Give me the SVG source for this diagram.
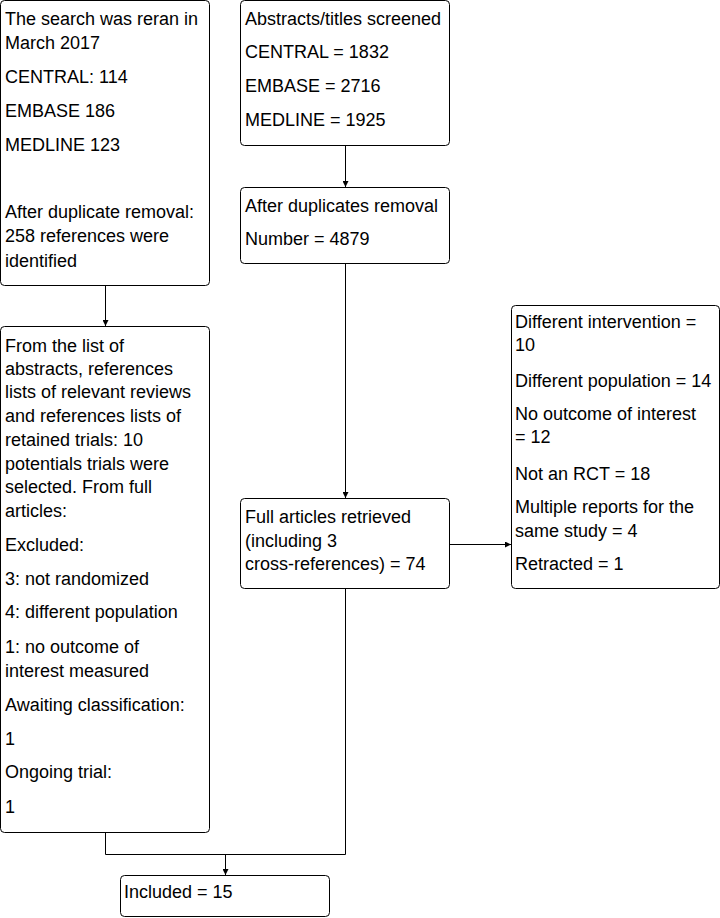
<svg xmlns="http://www.w3.org/2000/svg" width="720" height="918" viewBox="0 0 720 918">
<defs>
<style>
.box{fill:#fff;stroke:#000;stroke-width:1}
text{font-family:"Liberation Sans",Arial,sans-serif;font-size:18px;fill:#000}
.c{fill:none;stroke:#000;stroke-width:1}
</style>
<marker id="ah" markerWidth="6" markerHeight="6" refX="6" refY="3" orient="auto" markerUnits="userSpaceOnUse">
<path d="M0,0 L6,3 L0,6 z" fill="#000"/>
</marker>
</defs>
<rect width="720" height="918" fill="#fff"/>
<g id="connectors">
<path class="c" d="M105.5,285 V326" marker-end="url(#ah)"/>
<path class="c" d="M345.5,145 V187" marker-end="url(#ah)"/>
<path class="c" d="M345.5,263 V498" marker-end="url(#ah)"/>
<path class="c" d="M449,544.5 H511" marker-end="url(#ah)"/>
<path class="c" d="M105.5,832 V854.5 H345.5 V589"/>
<path class="c" d="M225.5,854.5 V875" marker-end="url(#ah)"/>
</g>
<g id="rerun">
<rect class="box" x="0.5" y="0.5" width="209" height="285" rx="4"/>
<text x="5" y="25">The search was reran in</text>
<text x="5" y="49">March 2017</text>
<text x="5" y="83">CENTRAL: 114</text>
<text x="5" y="117">EMBASE 186</text>
<text x="5" y="151">MEDLINE 123</text>
<text x="5" y="218">After duplicate removal:</text>
<text x="5" y="242">258 references were</text>
<text x="5" y="267">identified</text>
</g>
<g id="screened">
<rect class="box" x="240.5" y="0.5" width="209" height="145" rx="4"/>
<text x="245" y="25">Abstracts/titles screened</text>
<text x="245" y="58">CENTRAL = 1832</text>
<text x="245" y="92">EMBASE = 2716</text>
<text x="245" y="126">MEDLINE = 1925</text>
</g>
<g id="dedup">
<rect class="box" x="240.5" y="187.5" width="209" height="76" rx="4"/>
<text x="245" y="212">After duplicates removal</text>
<text x="245" y="245">Number = 4879</text>
</g>
<g id="full">
<rect class="box" x="240.5" y="498.5" width="209" height="90" rx="4"/>
<text x="245" y="523">Full articles retrieved</text>
<text x="245" y="547">(including 3</text>
<text x="245" y="570">cross-references) = 74</text>
</g>
<g id="excluded">
<rect class="box" x="511.5" y="305.5" width="208" height="283" rx="4"/>
<text x="515" y="328">Different intervention =</text>
<text x="515" y="351">10</text>
<text x="515" y="387">Different population = 14</text>
<text x="515" y="420">No outcome of interest</text>
<text x="515" y="443">= 12</text>
<text x="515" y="480">Not an RCT = 18</text>
<text x="515" y="513">Multiple reports for the</text>
<text x="515" y="537">same study = 4</text>
<text x="515" y="570">Retracted = 1</text>
</g>
<g id="additional">
<rect class="box" x="0.5" y="326.5" width="209" height="506" rx="4"/>
<text x="5" y="352">From the list of</text>
<text x="5" y="375">abstracts, references</text>
<text x="5" y="398">lists of relevant reviews</text>
<text x="5" y="422">and references lists of</text>
<text x="5" y="446">retained trials: 10</text>
<text x="5" y="470">potentials trials were</text>
<text x="5" y="493">selected. From full</text>
<text x="5" y="517">articles:</text>
<text x="5" y="551">Excluded:</text>
<text x="5" y="585">3: not randomized</text>
<text x="5" y="618">4: different population</text>
<text x="5" y="653">1: no outcome of</text>
<text x="5" y="677">interest measured</text>
<text x="5" y="711">Awaiting classification:</text>
<text x="5" y="745">1</text>
<text x="5" y="778">Ongoing trial:</text>
<text x="5" y="813">1</text>
</g>
<g id="included">
<rect class="box" x="120.5" y="875.5" width="209" height="41" rx="4"/>
<text x="124" y="898">Included = 15</text>
</g>
</svg>
